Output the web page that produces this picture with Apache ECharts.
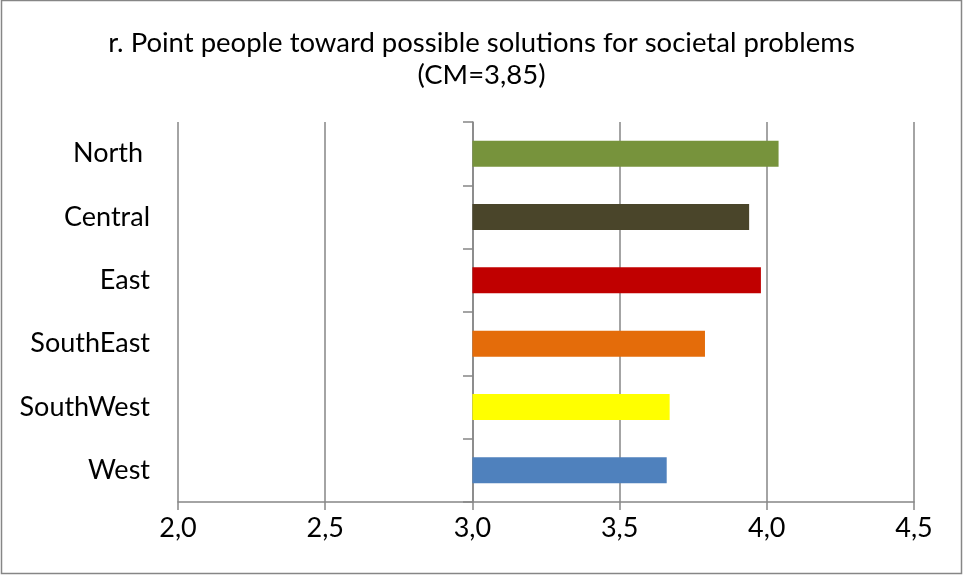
<!DOCTYPE html>
<html><head><meta charset="utf-8">
<script src="https://cdn.jsdelivr.net/npm/echarts@6/dist/echarts.min.js"></script>
<style>html,body{margin:0;padding:0;background:#fff}#c{width:963px;height:578px}</style>
</head><body><div id="c"></div>
<script>
const categories = ["North ", "Central", "East", "SouthEast", "SouthWest", "West"];
const values = [4.04, 3.94, 3.98, 3.79, 3.67, 3.66];
const barColors = ["#77933C", "#4A452A", "#C00000", "#E46C0A", "#FFFF00", "#4F81BD"];
const baseValue = 3.0;
const xTicks = [2.0, 2.5, 3.0, 3.5, 4.0, 4.5];
const titleLines = ["r. Point people toward possible solutions for societal problems", "(CM=3,85)"];

const FONT = "Lato";
const GRAY = "#868686";
const chart = echarts.init(document.getElementById('c'), null, {renderer: 'canvas'});
chart.setOption({
  animation: false,
  backgroundColor: '#fff',
  title: {
    text: titleLines.join('\n'), left: 'center', top: 22,
    textStyle: {fontFamily: FONT, fontSize: 27.5, fontWeight: 'normal', color: '#000', lineHeight: 32}
  },
  graphic: [{type: 'rect', shape: {x: 1.5, y: 0.5, width: 960, height: 573}, style: {fill: null, stroke: GRAY, lineWidth: 1.5}, silent: true}],
  grid: {left: 178, right: 49, top: 122, bottom: 76, containLabel: false},
  xAxis: {
    type: 'value', min: xTicks[0], max: xTicks[xTicks.length - 1], interval: 0.5,
    axisLine: {show: true, lineStyle: {color: GRAY, width: 1.5}},
    axisTick: {show: true, length: 8, lineStyle: {color: GRAY, width: 1.5}},
    splitLine: {show: true, lineStyle: {color: GRAY, width: 1.5}},
    axisLabel: {fontFamily: FONT, fontSize: 27, color: '#000', margin: 13, formatter: v => v.toFixed(1).replace('.', ',')}
  },
  yAxis: [{
    type: 'category', data: categories, inverse: true,
    axisLine: {show: false}, axisTick: {show: false},
    axisLabel: {fontFamily: FONT, fontSize: 27, color: '#000', margin: 28, padding: [4, 0, 0, 0]}
  }, {
    type: 'category', data: categories, inverse: true, position: 'left', offset: -295,
    axisLine: {show: true, lineStyle: {color: GRAY, width: 1.5}},
    axisTick: {show: true, length: 10, lineStyle: {color: GRAY, width: 1.5}},
    axisLabel: {show: false}, splitLine: {show: false}
  }],
  series: [{
    type: 'bar', stack: 's', yAxisIndex: 0, barWidth: 26, silent: true,
    itemStyle: {color: 'rgba(0,0,0,0)'},
    data: values.map(() => baseValue)
  }, {
    type: 'bar', stack: 's', yAxisIndex: 0, barWidth: 26,
    data: values.map((v, i) => ({value: +(v - baseValue).toFixed(4), itemStyle: {color: barColors[i]}}))
  }]
});
</script></body></html>
